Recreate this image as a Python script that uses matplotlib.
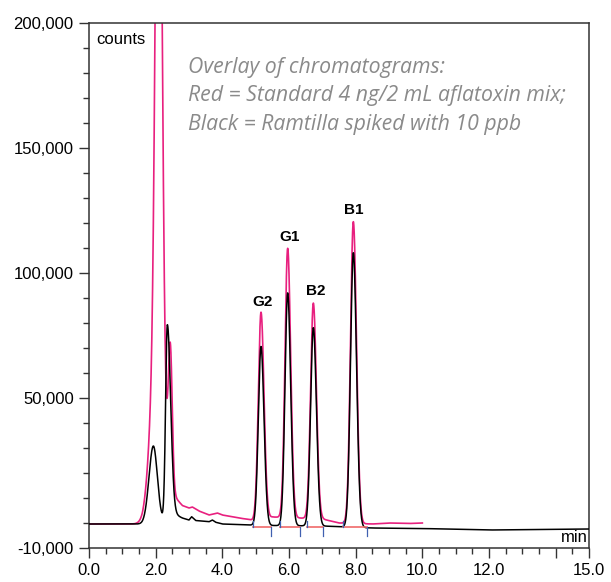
import numpy as np
import matplotlib
matplotlib.use("Agg")
import matplotlib.pyplot as plt
from matplotlib.ticker import FixedLocator, MultipleLocator

# ---------------- data ----------------
# Red trace: standard 4 ng/2 mL aflatoxin mix
# peaks: retention time (min), height (counts), left / right width (min)
red_rt = [2.09, 2.09, 2.44, 5.16, 5.96, 6.73, 7.93]
red_height = [250000, 90000, 56000, 82600, 107700, 86200, 120700]
red_sig_l = [0.09, 0.20, 0.059, 0.080, 0.080, 0.082, 0.085]
red_sig_r = [0.09, 0.15, 0.059, 0.090, 0.090, 0.092, 0.095]
red_base_t = [0.0, 1.6, 2.1, 2.4, 2.6, 2.8, 3.0, 3.1, 3.3, 3.6, 3.85, 4.0, 4.5, 4.9, 5.5, 6.3, 7.0, 7.5, 8.5, 9.0, 9.6, 10.0]
red_base_v = [-400, -400, 4000, 10000, 10000, 7000, 6000, 6400, 4800, 3200, 4000, 3200, 2000, 1200, 2400, 2000, 1600, 0, -400, 0, -200, 0]
red_end = 10.0

# Black trace: Ramtilla spiked with 10 ppb
black_rt = [1.93, 2.35, 5.16, 5.96, 6.73, 7.93]
black_height = [30700, 77000, 71500, 93100, 79300, 109800]
black_sig_l = [0.13, 0.052, 0.080, 0.080, 0.082, 0.085]
black_sig_r = [0.12, 0.097, 0.090, 0.090, 0.092, 0.095]
black_base_t = [0.0, 1.6, 2.2, 2.5, 2.8, 3.0, 3.08, 3.2, 3.6, 3.7, 3.8, 4.0, 4.8, 5.5, 7.0, 8.5, 10.0, 12.0, 15.0]
black_base_v = [-400, -400, 500, 4000, 2000, 1200, 2500, 1000, 500, 1200, 300, -400, -800, -1000, -1200, -2000, -2200, -2800, -2400]

# Integration marks
integ_start = [4.92, 5.73, 6.54, 7.62]
integ_end = [5.46, 6.33, 7.02, 8.34]
integ_level = -1600

peak_names = ["G2", "G1", "B2", "B1"]
label_x = [5.20, 6.03, 6.81, 7.95]
label_y = [88400, 114400, 92800, 125200]

x_ticks = [0, 2, 4, 6, 8, 10, 12, 14, 15]
x_ticklabels = ["0.0", "2.0", "4.0", "6.0", "8.0", "10.0", "12.0", "", "15.0"]
y_ticks = [-10000, 50000, 100000, 150000, 200000]
y_ticklabels = ["-10,000", "50,000", "100,000", "150,000", "200,000"]

title_lines = ["Overlay of chromatograms:",
               "Red = Standard 4 ng/2 mL aflatoxin mix;",
               "Black = Ramtilla spiked with 10 ppb"]


def trace(t, rts, hs, sl, sr, bt, bv):
    y = np.interp(t, bt, bv)
    for rt, h, a, b in zip(rts, hs, sl, sr):
        s = np.where(t < rt, a, b)
        y = y + h * np.exp(-0.5 * ((t - rt) / s) ** 2)
    return y


plt.rcParams['font.family'] = ['Liberation Sans', 'DejaVu Sans']

fig = plt.figure(figsize=(6.11, 5.82), dpi=100)
ax = fig.add_axes([89 / 611, 1 - 548 / 582, 500 / 611, 525 / 582])

t_red = np.linspace(0, red_end, 4001)
t_black = np.linspace(0, 15, 6001)
y_red = trace(t_red, red_rt, red_height, red_sig_l, red_sig_r, red_base_t, red_base_v)
y_black = trace(t_black, black_rt, black_height, black_sig_l, black_sig_r, black_base_t, black_base_v)

ax.plot(t_red, y_red, color="#e8207f", lw=1.2, zorder=2)
ax.plot(t_black, y_black, color="black", lw=1.1, zorder=3)

# integration baselines and marks
for s, e in zip(integ_start, integ_end):
    ax.plot([s, e], [integ_level, integ_level], color="#f06a6a", lw=1.2, zorder=4)
    ax.plot([s, s], [integ_level, integ_level + 2600], color="#4060b0", lw=0.9, zorder=4)
    ax.plot([e, e], [integ_level, integ_level - 3400], color="#4060b0", lw=0.9, zorder=4)

for name, lx, ly in zip(peak_names, label_x, label_y):
    ax.text(lx, ly, name, ha="center", va="center", fontsize=11, fontweight="bold")

ax.set_xlim(0, 15)
ax.set_ylim(-10000, 200000)
ax.xaxis.set_major_locator(FixedLocator(x_ticks))
ax.set_xticklabels(x_ticklabels)
ax.xaxis.set_minor_locator(MultipleLocator(0.5))
ax.yaxis.set_major_locator(FixedLocator(y_ticks))
ax.set_yticklabels(y_ticklabels)
ax.yaxis.set_minor_locator(MultipleLocator(10000))

ax.tick_params(which="major", direction="out", length=7, width=1.0, labelsize=12, color="#333333", pad=4)
ax.tick_params(which="minor", direction="out", length=4, width=1.0, color="#333333")
for sp in ax.spines.values():
    sp.set_linewidth(1.1)
    sp.set_color("#333333")

ax.text(0.014, 0.968, "counts", transform=ax.transAxes, ha="left", va="center", fontsize=12)
ax.text(0.998, 0.02, "min", transform=ax.transAxes, ha="right", va="center", fontsize=12)

ys = [0.916, 0.861, 0.806]
for line, yy in zip(title_lines, ys):
    ax.text(0.198, yy, line, transform=ax.transAxes, ha="left", va="center",
            fontsize=15.3, style="italic", color="#8a8a8a", family=["Open Sans", "DejaVu Sans"])

fig.savefig("out.png", dpi=100)
